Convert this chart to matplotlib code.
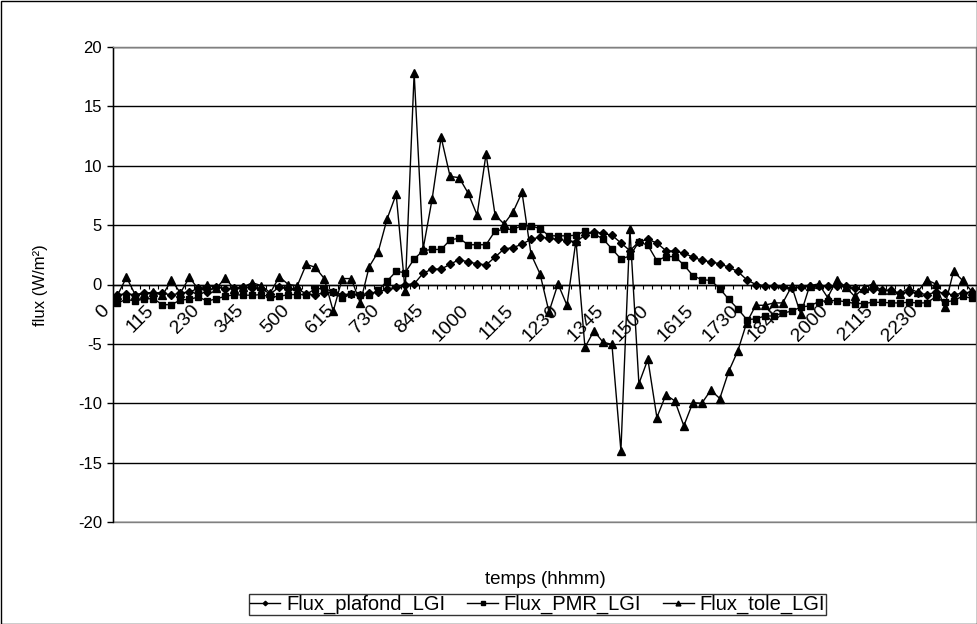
import numpy as np
import matplotlib
matplotlib.use("Agg")
import matplotlib.pyplot as plt
from matplotlib.patches import Rectangle

plt.rcParams['font.family'] = ['Liberation Sans', 'DejaVu Sans']
plt.rcParams['axes.unicode_minus'] = False

# time labels shown every 5th quarter-hour (hhmm)
tick_labels = ['0', '115', '230', '345', '500', '615', '730', '845', '1000', '1115',
               '1230', '1345', '1500', '1615', '1730', '1845', '2000', '2115', '2230']

flux_plafond = [-0.85, -0.8, -0.85, -0.7, -0.7, -0.7, -0.9, -0.7, -0.65, -0.3,
                -0.6, -0.2, -0.35, -0.3, -0.2, -0.3, -0.35, -0.8, -0.2, -0.4,
                -0.35, -0.8, -0.85, -0.7, -0.65, -0.85, -0.8, -0.9, -0.7, -0.65,
                -0.4, -0.2, 0.0, 0.05, 0.95, 1.3, 1.3, 1.7, 2.1, 1.9,
                1.75, 1.65, 2.3, 3.0, 3.1, 3.4, 3.8, 4.0, 3.9, 3.8,
                3.7, 3.6, 4.15, 4.45, 4.3, 4.15, 3.5, 2.85, 3.6, 3.8,
                3.5, 2.85, 2.8, 2.65, 2.3, 2.05, 1.9, 1.75, 1.45, 1.1,
                0.4, 0.0, -0.1, -0.15, -0.2, -0.3, -0.2, -0.15, -0.1, -0.15,
                -0.1, -0.1, -0.3, -0.5, -0.4, -0.5, -0.5, -0.7, -0.65, -0.7,
                -0.85, -0.65, -0.7, -0.9, -0.7, -0.65]

flux_pmr = [-1.55, -1.25, -1.4, -1.2, -1.2, -1.7, -1.7, -1.3, -1.25, -1.05,
            -1.4, -1.2, -1.0, -0.85, -0.9, -0.9, -0.85, -1.05, -1.0, -0.85,
            -0.85, -0.85, -0.35, -0.35, -0.6, -1.15, -0.8, -0.9, -0.9, -0.5,
            0.3, 1.1, 1.0, 2.15, 2.85, 2.95, 2.95, 3.75, 3.9, 3.35,
            3.35, 3.35, 4.5, 4.65, 4.65, 4.95, 4.95, 4.7, 4.1, 4.1,
            4.1, 4.15, 4.5, 4.25, 3.85, 3.0, 2.15, 2.4, 3.6, 3.3,
            2.0, 2.35, 2.35, 1.65, 0.75, 0.4, 0.35, -0.35, -1.25, -2.05,
            -2.95, -2.9, -2.65, -2.65, -2.4, -2.25, -1.9, -1.8, -1.45, -1.35,
            -1.35, -1.45, -1.6, -1.6, -1.5, -1.5, -1.55, -1.55, -1.5, -1.55,
            -1.55, -1.05, -1.5, -1.35, -1.0, -1.15]

flux_tole = [-0.9, 0.6, -0.9, -0.8, -0.65, -0.9, 0.35, -0.7, 0.6, -0.4,
             0.0, -0.3, 0.55, -0.4, -0.2, 0.15, -0.1, -0.7, 0.65, 0.0,
             -0.1, 1.7, 1.45, 0.5, -2.25, 0.5, 0.5, -1.55, 1.5, 2.75,
             5.55, 7.6, -0.55, 17.8, 3.0, 7.2, 12.4, 9.1, 9.0, 7.7,
             5.85, 11.0, 5.85, 5.1, 6.1, 7.75, 2.55, 0.9, -2.3, 0.05,
             -1.75, 3.7, -5.3, -3.9, -4.85, -5.05, -14.0, 4.7, -8.35, -6.3,
             -11.2, -9.3, -9.8, -11.9, -9.95, -10.0, -8.9, -9.6, -7.3, -5.6,
             -3.2, -1.75, -1.75, -1.55, -1.55, -0.15, -2.5, -0.1, 0.05, -1.1,
             0.4, -0.2, -1.0, -0.3, 0.05, -0.5, -0.5, -0.8, -0.3, -0.65,
             0.4, 0.05, -1.9, 1.1, 0.35, -0.55]

x = np.arange(len(flux_plafond))

fig = plt.figure(figsize=(9.78, 6.24), dpi=100)
ax = fig.add_axes([113 / 978, (624 - 522) / 624, (976 - 113) / 978, (522 - 47) / 624])

ax.plot(x, flux_plafond, color='black', lw=1, marker='D', ms=3.8, label='Flux_plafond_LGI')
ax.plot(x, flux_pmr, color='black', lw=1, marker='s', ms=5, label='Flux_PMR_LGI')
ax.plot(x, flux_tole, color='black', lw=1, marker='^', ms=5.8, label='Flux_tole_LGI')

ax.set_xlim(-0.5, len(x) - 0.5)
ax.set_ylim(-20, 20)
ax.set_yticks(np.arange(-20, 21, 5))
ax.yaxis.grid(True, color='black', lw=1)
ax.set_axisbelow(True)
ax.tick_params(axis='y', direction='out', length=4, width=1, labelsize=12, pad=4)

# category axis crosses at zero, tick marks between categories
ax.spines['bottom'].set_position(('data', 0))
ax.spines['bottom'].set_linewidth(1)
ax.set_xticks(np.arange(-0.5, len(x), 1))
ax.set_xticklabels([])
ax.tick_params(axis='x', direction='out', length=3, width=0.8)
for i, lab in enumerate(tick_labels):
    ax.annotate(lab, xy=(i * 5, 0), xycoords='data', xytext=(-12, -12.5),
                textcoords='offset points', rotation=45, ha='right', va='top',
                rotation_mode='anchor', fontsize=14)

ax.spines['left'].set_linewidth(1)
for s in ['top', 'right']:
    ax.spines[s].set_color('#808080')
ax.add_patch(Rectangle((0, 0), 1, 1, transform=ax.transAxes, fill=False,
                       edgecolor='#808080', lw=1, clip_on=False, zorder=0))

fig.text(40 / 978, 1 - 285 / 624, 'flux (W/m²)', rotation=90, ha='center', va='center', fontsize=12)
fig.text(545 / 978, 1 - 580 / 624, 'temps (hhmm)', ha='center', va='center', fontsize=13.5)

leg = fig.legend(loc='center', bbox_to_anchor=(537.5 / 978, 1 - 604.5 / 624), ncol=3,
                 fontsize=14.5, frameon=True, fancybox=False, borderpad=0.05,
                 handlelength=1.5, handletextpad=0.3, columnspacing=1.1,
                 markerscale=0.6, borderaxespad=0)
leg.get_frame().set_edgecolor('black')
leg.get_frame().set_linewidth(1)

fig.add_artist(Rectangle((0.5 / 978, 0.5 / 624), 976.5 / 978, 622.5 / 624, transform=fig.transFigure,
                         fill=False, edgecolor='black', lw=1))

fig.savefig('out.png', dpi=100)
